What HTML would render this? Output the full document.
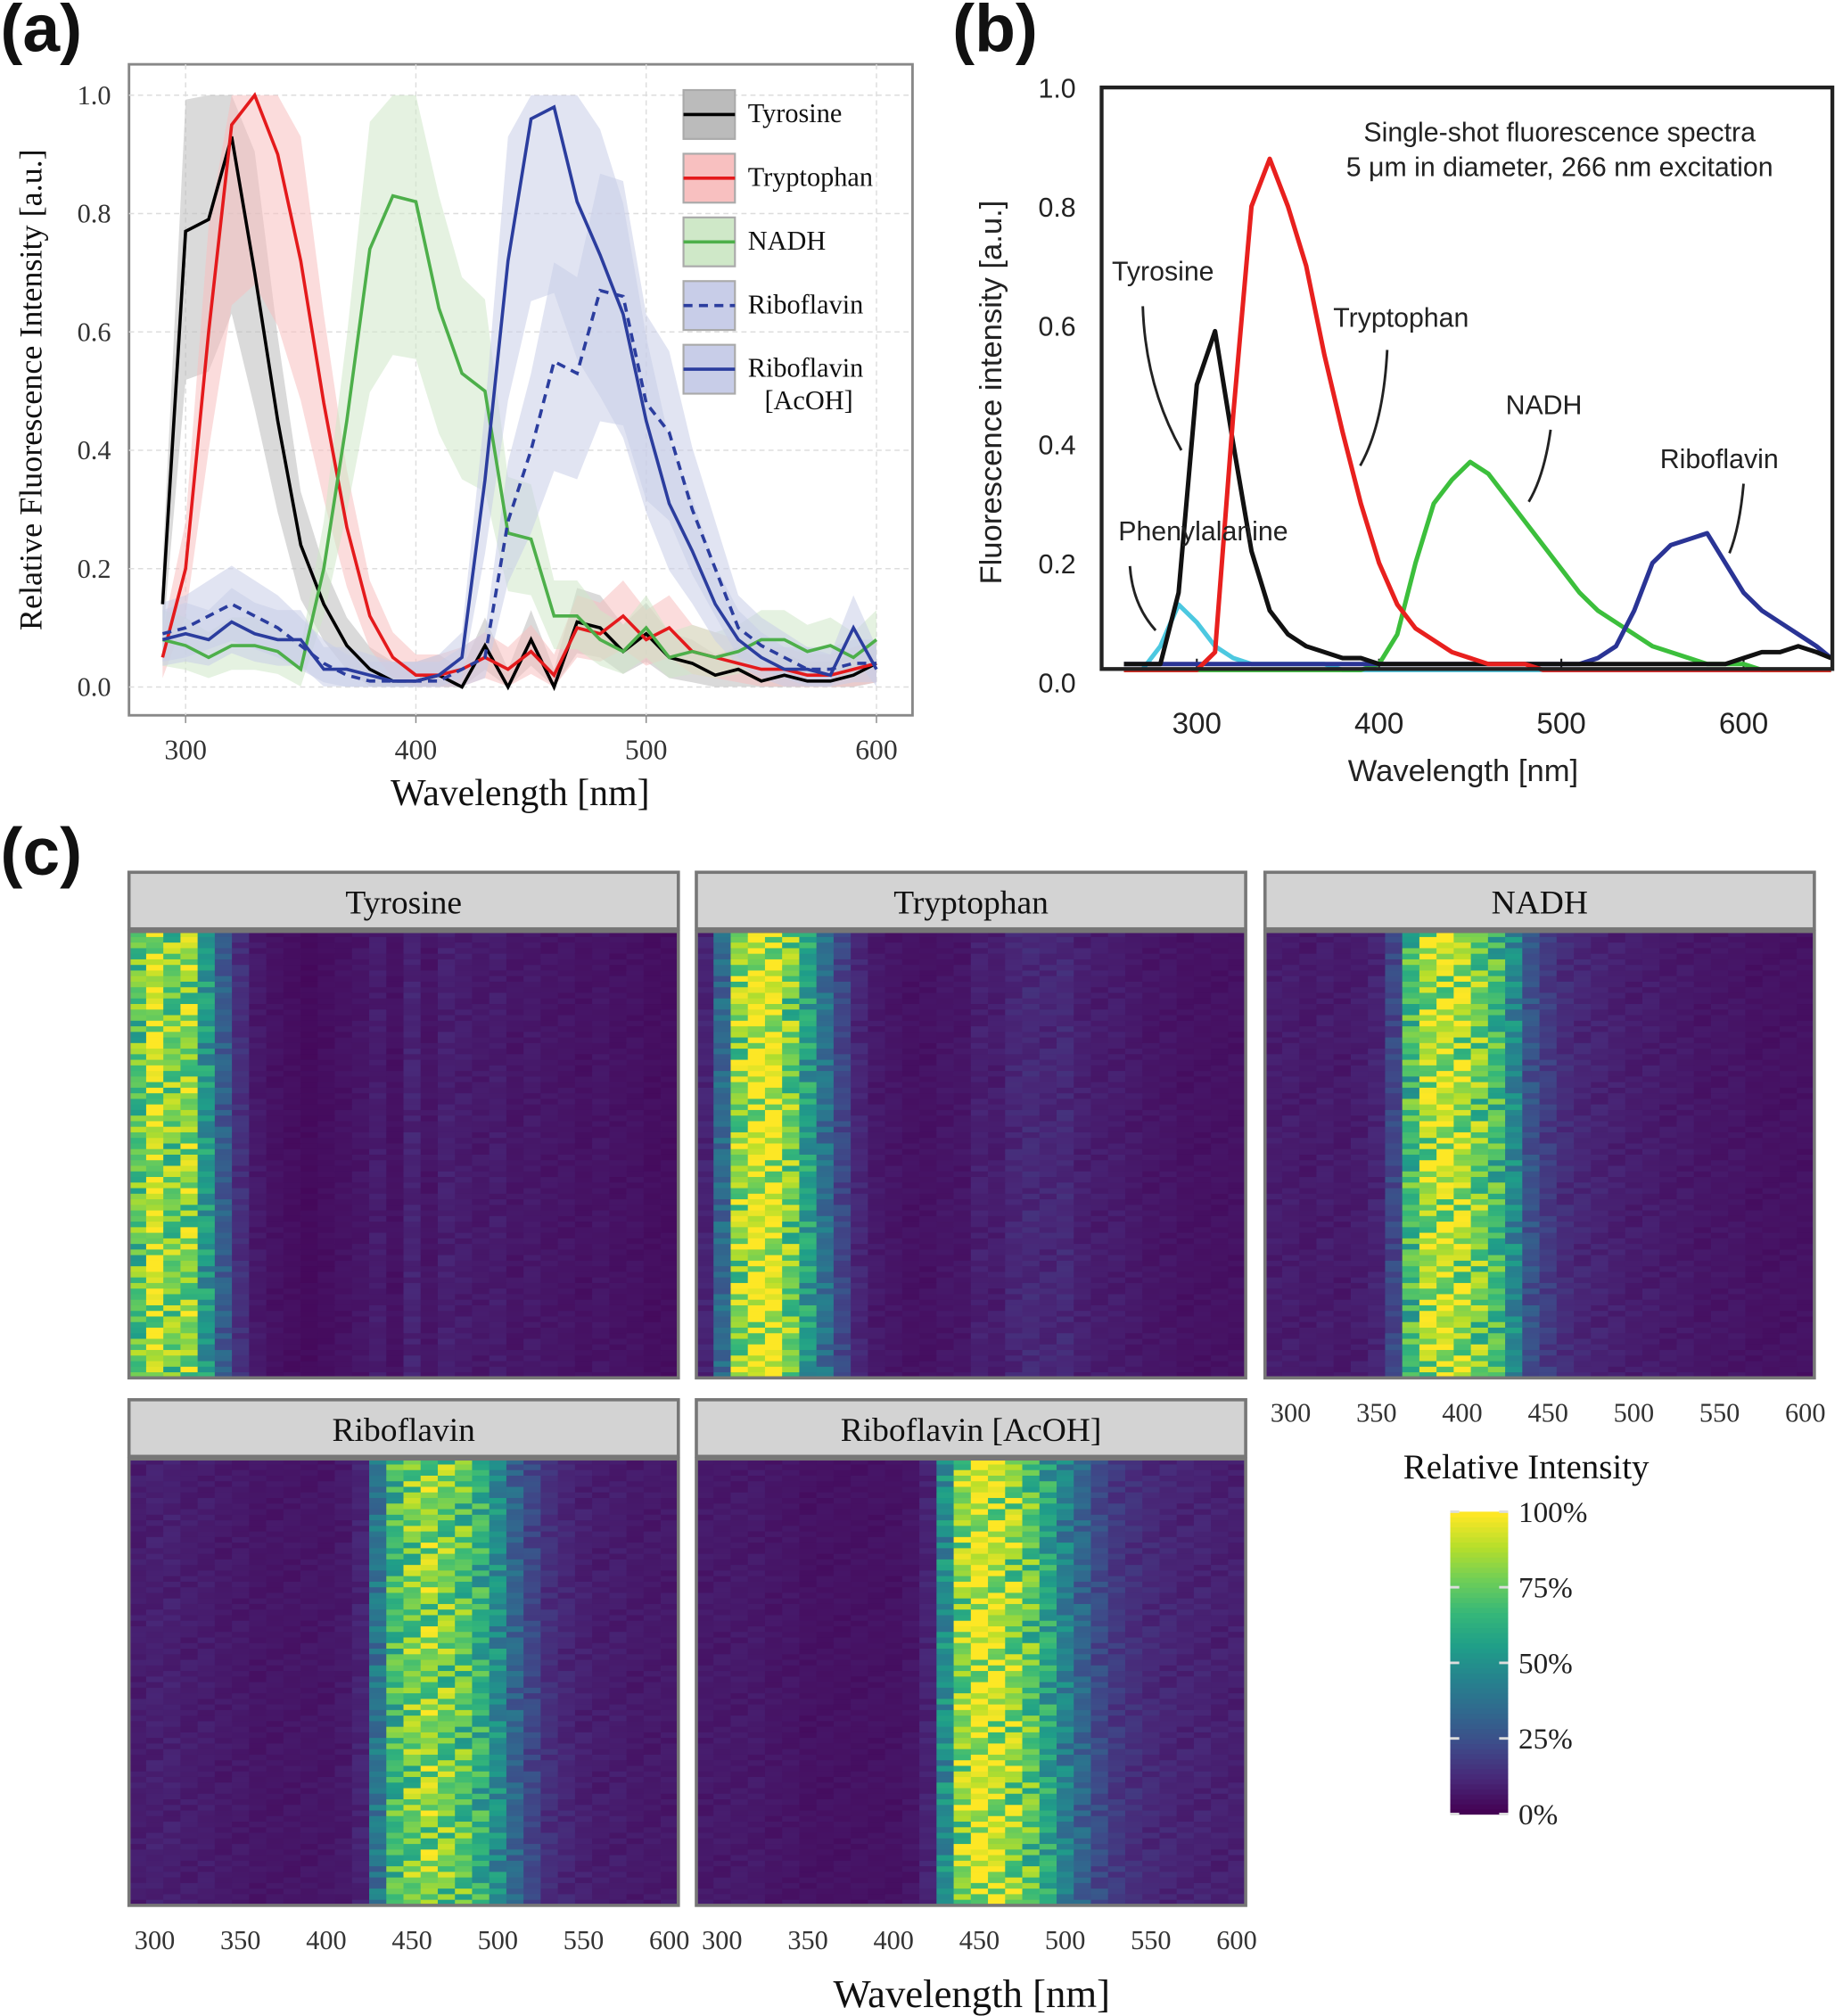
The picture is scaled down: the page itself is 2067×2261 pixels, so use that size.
<!DOCTYPE html>
<html><head><meta charset="utf-8">
<style>
html,body{margin:0;padding:0;background:#fff;}
svg{display:block;}
.serif{font-family:"Liberation Serif",serif;}
.sans{font-family:"Liberation Sans",sans-serif;}
</style></head>
<body>
<svg id="fig" width="2067" height="2261" viewBox="0 0 1432 1567" xmlns="http://www.w3.org/2000/svg">
<g id="root"></g>
</svg>
<script>
// ---------- Panel (a) data ----------
const aWave = [290,300,310,320,330,340,350,360,370,380,390,400,410,420,430,440,450,460,470,480,490,500,510,520,530,540,550,560,570,580,590,600];
const aTyrosine = [0.14,0.77,0.79,0.93,0.70,0.45,0.24,0.14,0.07,0.03,0.01,0.01,0.02,0.00,0.07,0.00,0.08,0.00,0.11,0.10,0.06,0.09,0.05,0.04,0.02,0.03,0.01,0.02,0.01,0.01,0.02,0.04];
const aTryptophan = [0.05,0.20,0.60,0.95,1.00,0.90,0.72,0.48,0.27,0.12,0.05,0.02,0.02,0.03,0.05,0.03,0.06,0.02,0.10,0.09,0.12,0.08,0.10,0.06,0.05,0.04,0.03,0.03,0.02,0.02,0.03,0.04];
const aNADH = [0.08,0.07,0.05,0.07,0.07,0.06,0.03,0.20,0.45,0.74,0.83,0.82,0.64,0.53,0.50,0.26,0.25,0.12,0.12,0.08,0.06,0.10,0.05,0.06,0.05,0.06,0.08,0.08,0.06,0.07,0.05,0.08];
const aRiboflavin = [0.09,0.10,0.12,0.14,0.12,0.10,0.07,0.04,0.02,0.01,0.01,0.01,0.01,0.03,0.05,0.28,0.40,0.55,0.53,0.67,0.66,0.48,0.43,0.30,0.20,0.10,0.07,0.05,0.03,0.03,0.04,0.04];
const aRiboAcOH = [0.08,0.09,0.08,0.11,0.09,0.08,0.08,0.03,0.03,0.02,0.01,0.01,0.02,0.05,0.35,0.72,0.96,0.98,0.82,0.73,0.63,0.45,0.31,0.23,0.14,0.08,0.05,0.03,0.03,0.02,0.10,0.03];
const aXTicks = [300,400,500,600];
const aYTicks = [0.0,0.2,0.4,0.6,0.8,1.0];

// ---------- Panel (b) data ----------
const bWave = [260,270,280,290,300,310,320,330,340,350,360,370,380,390,400,410,420,430,440,450,460,470,480,490,500,510,520,530,540,550,560,570,580,590,600,610,620,630,640,650];
const bTyrosine = [0.03,0.03,0.03,0.15,0.50,0.59,0.40,0.22,0.12,0.08,0.06,0.05,0.04,0.04,0.03,0.03,0.03,0.03,0.03,0.03,0.03,0.03,0.03,0.03,0.03,0.03,0.03,0.03,0.03,0.03,0.03,0.03,0.03,0.03,0.04,0.05,0.05,0.06,0.05,0.04];
const bPhenyl = [0.02,0.02,0.06,0.13,0.10,0.06,0.04,0.03,0.03,0.03,0.03,0.03,0.02,0.02,0.02,0.02,0.02,0.02,0.02,0.02,0.02,0.02,0.02,0.02,0.02,0.02,0.02,0.02,0.02,0.02,0.02,0.02,0.02,0.02,0.02,0.02,0.02,0.02,0.02,0.02];
const bTryptophan = [0.02,0.02,0.02,0.02,0.02,0.05,0.45,0.80,0.88,0.80,0.70,0.55,0.42,0.30,0.20,0.13,0.09,0.07,0.05,0.04,0.03,0.03,0.03,0.02,0.02,0.02,0.02,0.02,0.02,0.02,0.02,0.02,0.02,0.02,0.02,0.02,0.02,0.02,0.02,0.02];
const bNADH = [0.02,0.02,0.02,0.02,0.02,0.02,0.02,0.02,0.02,0.02,0.02,0.02,0.02,0.02,0.03,0.08,0.20,0.30,0.34,0.37,0.35,0.31,0.27,0.23,0.19,0.15,0.12,0.10,0.08,0.06,0.05,0.04,0.03,0.03,0.03,0.02,0.02,0.02,0.02,0.02];
const bRiboflavin = [0.03,0.03,0.03,0.03,0.03,0.03,0.03,0.03,0.03,0.03,0.03,0.03,0.03,0.03,0.03,0.03,0.03,0.03,0.03,0.03,0.03,0.03,0.03,0.03,0.03,0.03,0.04,0.06,0.12,0.20,0.23,0.24,0.25,0.20,0.15,0.12,0.10,0.08,0.06,0.04];
const bXTicks = [300,400,500,600];
const bYTicks = [0.0,0.2,0.4,0.6,0.8,1.0];

// ---------- Panel (c) data ----------
const cWave = aWave;
const cTyrosine = [0.75,0.95,0.80,0.85,0.55,0.30,0.14,0.07,0.05,0.04,0.03,0.04,0.05,0.06,0.08,0.05,0.10,0.06,0.09,0.08,0.07,0.08,0.06,0.07,0.06,0.06,0.05,0.06,0.05,0.05,0.04,0.04];
const cTryptophan = [0.10,0.35,0.85,1.00,1.00,0.80,0.58,0.38,0.22,0.11,0.07,0.06,0.05,0.05,0.06,0.06,0.09,0.08,0.11,0.12,0.11,0.12,0.09,0.08,0.08,0.07,0.06,0.06,0.05,0.05,0.05,0.05];
const cNADH = [0.08,0.08,0.07,0.08,0.07,0.08,0.10,0.22,0.70,0.90,0.95,0.90,0.80,0.70,0.48,0.26,0.18,0.13,0.11,0.10,0.09,0.08,0.08,0.07,0.07,0.06,0.06,0.06,0.05,0.05,0.05,0.05];
const cRiboflavin = [0.08,0.09,0.09,0.08,0.08,0.07,0.07,0.06,0.06,0.06,0.06,0.06,0.07,0.10,0.40,0.70,0.80,0.85,0.80,0.75,0.65,0.50,0.33,0.22,0.14,0.11,0.09,0.08,0.08,0.07,0.07,0.07];
const cRiboAcOH = [0.07,0.07,0.07,0.07,0.06,0.06,0.05,0.05,0.05,0.05,0.05,0.05,0.06,0.10,0.50,0.85,1.00,0.95,0.85,0.75,0.60,0.45,0.33,0.23,0.17,0.14,0.12,0.11,0.10,0.10,0.09,0.09];
const cRowFactor = [0.95,1.15,0.75,1.05,0.85,1.20,0.70,1.00,0.90,1.10,0.80,1.18,0.97,0.72,1.08,0.92,1.15,0.78,1.02,0.88,1.20,0.82,0.99,1.10,0.74,1.04,0.91,1.16,0.80,1.01,0.96,1.12,0.70,1.05,0.87,1.19,0.83,1.00,0.94,1.08];
const cXTicks = [300,350,400,450,500,550,600];
const cbarTicks = ["0%","25%","50%","75%","100%"];

const NS="http://www.w3.org/2000/svg";
const root=document.getElementById('root');
function el(tag,attrs,parent){const e=document.createElementNS(NS,tag);for(const k in attrs)e.setAttribute(k,attrs[k]);(parent||root).appendChild(e);return e;}
function txt(s,attrs,parent){const e=el('text',attrs,parent);e.textContent=s;return e;}

function viridis(t){
  t=Math.max(0,Math.min(1,t));
  const c=[[68,1,84],[72,40,120],[62,74,137],[49,104,142],[38,130,142],[31,158,137],[53,183,121],[110,206,88],[181,222,43],[253,231,37]];
  const p=t*(c.length-1),i=Math.min(c.length-2,Math.floor(p)),f=p-i;
  const r=c[i].map((v,k)=>Math.round(v+(c[i+1][k]-v)*f));
  return `rgb(${r[0]},${r[1]},${r[2]})`;
}

// ---------- Panel labels ----------
[["(a)",0,40],["(b)",740,40],["(c)",0,680]].forEach(([s,x,y])=>{
  const t=txt(s,{x:x,y:y,'font-size':52,'font-weight':'bold',class:'sans',fill:'#111'});
  
  
});

// ---------- Panel (a) ----------
(function(){
  const g=el('g',{});
  
  
  const xs=v=>144+(v-300)*(681-144)/300, ys=v=>534-v*460;
  el('rect',{x:100,y:50,width:609,height:506,fill:'#fff',stroke:'#888','stroke-width':2},g);
  aXTicks.forEach(v=>{el('line',{x1:xs(v),x2:xs(v),y1:50,y2:556,stroke:'#ddd','stroke-dasharray':'4,3'},g);
    const t=txt(v,{x:xs(v),y:590,'text-anchor':'middle','font-size':22,class:'serif',fill:'#333'},g);
    
    el('line',{x1:xs(v),x2:xs(v),y1:556,y2:562,stroke:'#888'},g);});
  aYTicks.forEach(v=>{el('line',{x1:100,x2:709,y1:ys(v),y2:ys(v),stroke:'#ddd','stroke-dasharray':'4,3'},g);
    const t=txt(v.toFixed(1),{x:86,y:ys(v)+7,'text-anchor':'end','font-size':21,class:'serif',fill:'#333'},g);
    });
  const xt=txt('Wavelength [nm]',{x:404,y:626,'text-anchor':'middle','font-size':29,class:'serif',fill:'#111'},g);
  
  const yt=txt('Relative Fluorescence Intensity [a.u.]',{x:0,y:0,transform:'translate(32,303) rotate(-90)','text-anchor':'middle','font-size':25,class:'serif',fill:'#111'},g);
  
  const series=[["tyrosine",aTyrosine,'#000','#bbb',''],["tryptophan",aTryptophan,'#e41a1c','#f8c0c0',''],["nadh",aNADH,'#4daf4a','#cfe8c8',''],["riboflavin",aRiboflavin,'#2b3d9e','#c8cde8','7,5'],["riboflavin-acoh",aRiboAcOH,'#2b3d9e','#c8cde8','']];
  series.forEach(([n,d,c,bc])=>{
    let up=aWave.map((w,i)=>xs(w)+','+ys(Math.min(1,d[i]+d[i]*0.25+0.03)));
    let lo=aWave.map((w,i)=>xs(w)+','+ys(Math.max(0,d[i]-d[i]*0.3-0.02))).reverse();
    const b=el('polygon',{points:up.concat(lo).join(' '),fill:bc,opacity:0.55},g);
    
  });
  series.forEach(([n,d,c,bc,da])=>{
    const p=el('polyline',{points:aWave.map((w,i)=>xs(w)+','+ys(d[i])).join(' '),fill:'none',stroke:c,'stroke-width':2.5,'stroke-dasharray':da},g);
    
  });
  const labels=[["Tyrosine"],["Tryptophan"],["NADH"],["Riboflavin"],["Riboflavin","[AcOH]"]];
  series.forEach(([n,d,c,bc,da],i)=>{
    const y=70+i*49.5;
    const lg=el('g',{},g);
    
    el('rect',{x:531,y:y,width:40,height:38,fill:bc,stroke:'#aaa','stroke-width':1.5},lg);
    el('line',{x1:531,x2:571,y1:y+19,y2:y+19,stroke:c,'stroke-width':2.5,'stroke-dasharray':da},lg);
    txt(labels[i][0],{x:581,y:y+25,'font-size':21,class:'serif',fill:'#111'},lg);
    if(labels[i][1])txt(labels[i][1],{x:594,y:y+50,'font-size':21,class:'serif',fill:'#111'},lg);
  });
})();

// ---------- Panel (b) ----------
(function(){
  const g=el('g',{});
  
  
  const xs=v=>930+(v-300)*(1355-930)/300, ys=v=>530-v*462;
  const cx=v=>Math.max(857,Math.min(1423,xs(v)));
  bXTicks.forEach(v=>{const t=txt(v,{x:xs(v),y:570,'text-anchor':'middle','font-size':23,class:'sans',fill:'#222'},g);
    
    el('line',{x1:xs(v),x2:xs(v),y1:520,y2:512,stroke:'#222','stroke-width':1.5},g);});
  bYTicks.forEach(v=>{const t=txt(v.toFixed(1),{x:836,y:ys(v)+8,'text-anchor':'end','font-size':21,class:'sans',fill:'#222'},g);
    });
  const series=[["phenylalanine",bPhenyl,'#4cc8e0'],["nadh",bNADH,'#3cbf3c'],["riboflavin",bRiboflavin,'#2a3495'],["tyrosine",bTyrosine,'#111'],["tryptophan",bTryptophan,'#e8201e']];
  series.forEach(([n,d,c])=>{
    const p=el('polyline',{points:bWave.map((w,i)=>cx(w)+','+ys(d[i])).join(' '),fill:'none',stroke:c,'stroke-width':3.5,'stroke-linejoin':'round'},g);
    
  });
  el('rect',{x:856,y:68,width:568,height:452,fill:'none',stroke:'#222','stroke-width':3},g);
  txt('Single-shot fluorescence spectra',{x:1212,y:110,'text-anchor':'middle','font-size':21,class:'sans',fill:'#222'},g);
  txt('5 μm in diameter, 266 nm excitation',{x:1212,y:137,'text-anchor':'middle','font-size':21,class:'sans',fill:'#222'},g);
  [["Tyrosine",864,218],["Tryptophan",1036,254],["NADH",1170,322],["Riboflavin",1290,364],["Phenylalanine",869,420]].forEach(([s,x,y])=>{
    const t=txt(s,{x:x,y:y,'font-size':21,class:'sans',fill:'#222'},g);
    });
  [["M888,238 Q890,300 918,350"],["M1078,272 Q1075,330 1057,362"],["M1205,334 Q1200,370 1188,390"],["M1355,376 Q1352,410 1344,430"],["M878,440 Q880,470 898,490"]].forEach(([d])=>el('path',{d:d,fill:'none',stroke:'#222','stroke-width':2},g));
  const xt=txt('Wavelength [nm]',{x:1137,y:607,'text-anchor':'middle','font-size':24,class:'sans',fill:'#222'},g);
  
  const yt=txt('Fluorescence intensity [a.u.]',{x:0,y:0,transform:'translate(778,305) rotate(-90)','text-anchor':'middle','font-size':24,class:'sans',fill:'#222'},g);
  
})();

// ---------- Panel (c) ----------
(function(){
  const panels=[["Tyrosine",cTyrosine,100,678],["Tryptophan",cTryptophan,541,678],["NADH",cNADH,983,678],["Riboflavin",cRiboflavin,100,1088],["Riboflavin [AcOH]",cRiboAcOH,541,1088]];
  const W=427, nRows=80;
  panels.forEach(([name,prof,x0,y0],p)=>{
    const g=el('g',{});
    
    
    el('rect',{x:x0,y:y0,width:W,height:44,fill:'#d3d3d3',stroke:'#777','stroke-width':2.5},g);
    txt(name,{x:x0+W/2,y:y0+32,'text-anchor':'middle','font-size':26,class:'serif',fill:'#111'},g);
    const hy=y0+46, H=347, rh=H/nRows;
    const xs=v=>x0+20+(v-300)*(400/300);
    for(let r=0;r<nRows;r++){
      cWave.forEach((w,i)=>{
        const f=cRowFactor[(r*7+i*3+p*13)%cRowFactor.length];
        const v=prof[i]*f;
        const c=el('rect',{x:xs(w)-6.67,y:hy+r*rh,width:13.6,height:rh+0.6,fill:viridis(v)},g);
        
        
      });
    }
    el('rect',{x:x0,y:hy,width:W,height:H,fill:'none',stroke:'#777','stroke-width':2.5},g);
    if(name==='NADH'||y0>1000){
      const ty=hy+H+34;
      cXTicks.forEach(v=>{const t=txt(v,{x:xs(v),y:ty,'text-anchor':'middle','font-size':21,class:'serif',fill:'#333'},g);
        });
    }
  });
  const xt=txt('Wavelength [nm]',{x:755,y:1560,'text-anchor':'middle','font-size':31,class:'serif',fill:'#111'});
  
  const cg=el('g',{});
  
  txt('Relative Intensity',{x:1186,y:1149,'text-anchor':'middle','font-size':27,class:'serif',fill:'#111'},cg);
  const top=1175,bot=1410,n=60;
  for(let i=0;i<n;i++){el('rect',{x:1127,y:bot-(i+1)*(bot-top)/n,width:45,height:(bot-top)/n+0.5,fill:viridis(i/(n-1))},cg);}
  cbarTicks.forEach((s,i)=>{const y=bot-i*(bot-top)/4;
    el('line',{x1:1127,x2:1134,y1:y,y2:y,stroke:'#ddd','stroke-width':2},cg);
    el('line',{x1:1165,x2:1172,y1:y,y2:y,stroke:'#ddd','stroke-width':2},cg);
    const t=txt(s,{x:1180,y:y+8,'font-size':23,class:'serif',fill:'#222'},cg);
    });
})();
</script>
</body></html>
